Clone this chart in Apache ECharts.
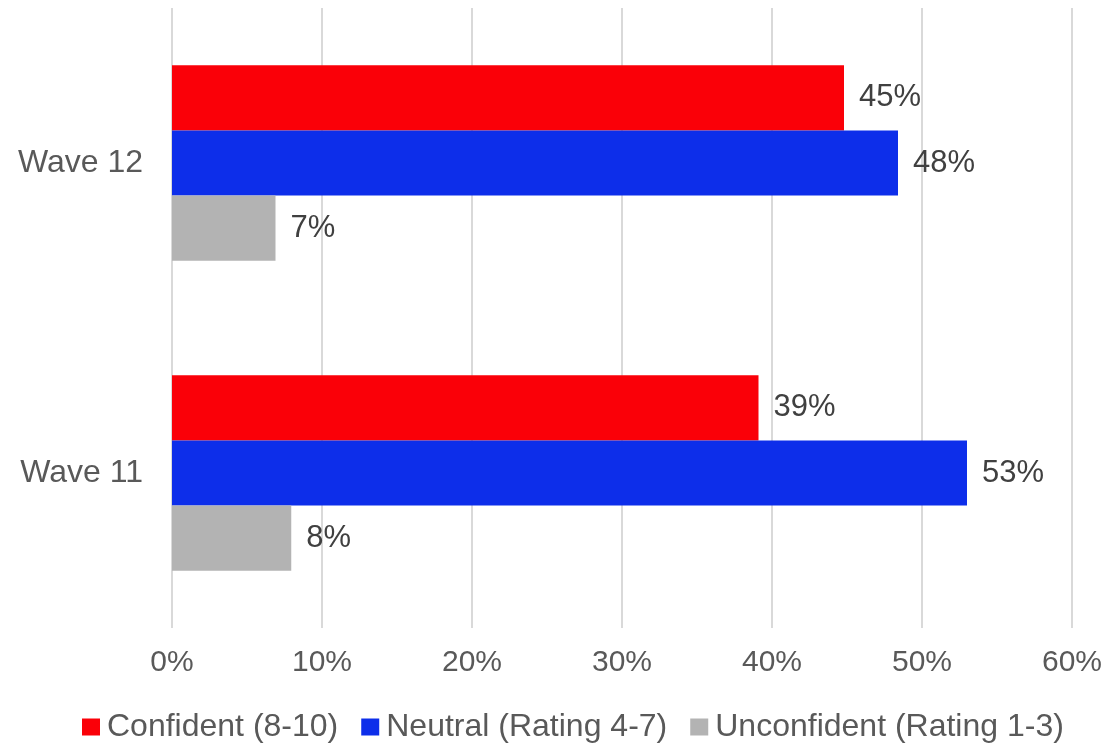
<!DOCTYPE html>
<html>
<head>
<meta charset="utf-8">
<script src="https://cdn.jsdelivr.net/npm/echarts@6/dist/echarts.min.js"></script>
<style>
  html, body { margin: 0; padding: 0; background: #fff; }
  #chart { width: 1109px; height: 744px; }
</style>
</head>
<body>
<div id="chart"></div>
<script>
const categories = ['Wave 12', 'Wave 11']
const confident = [44.8, 39.1]
const neutral = [48.4, 53.0]
const unconfident = [6.9, 7.95]
const xTicks = [0, 10, 20, 30, 40, 50, 60]

const font = '"Liberation Sans", Arial, sans-serif'

const chart = echarts.init(document.getElementById('chart'), null, { renderer: 'canvas' })

const barLabel = {
  show: true,
  position: 'right',
  distance: 15,
  fontSize: 31,
  fontFamily: font,
  color: '#404040',
  formatter: p => Math.round(p.value) + '%'
}

chart.setOption({
  animation: false,
  grid: { left: 172, right: 37, top: 8, bottom: 116 },
  legend: {
    top: 711,
    left: 82,
    padding: 0,
    itemWidth: 18,
    itemHeight: 17,
    itemGap: 23,
    icon: 'rect',
    textStyle: { fontSize: 32, fontFamily: font, color: '#595959', padding: [0, 0, 0, 2] },
    data: ['Confident (8-10)', 'Neutral (Rating 4-7)', 'Unconfident (Rating 1-3)']
  },
  xAxis: {
    type: 'value',
    min: xTicks[0],
    max: xTicks[xTicks.length - 1],
    interval: 10,
    axisLine: { show: false },
    axisTick: { show: false },
    splitLine: { lineStyle: { color: '#d9d9d9', width: 2 } },
    axisLabel: {
      margin: 20,
      fontSize: 30,
      fontFamily: font,
      color: '#595959',
      formatter: v => v + '%'
    }
  },
  yAxis: {
    type: 'category',
    inverse: true,
    data: categories,
    axisLine: { show: false },
    axisTick: { show: false },
    axisLabel: { margin: 29, fontSize: 32, fontFamily: font, color: '#595959' }
  },
  series: [
    {
      name: 'Confident (8-10)',
      type: 'bar',
      data: confident,
      barGap: '0%',
      barCategoryGap: '37%',
      itemStyle: { color: '#fa0008' },
      label: barLabel
    },
    {
      name: 'Neutral (Rating 4-7)',
      type: 'bar',
      data: neutral,
      itemStyle: { color: '#0d2eea' },
      label: barLabel
    },
    {
      name: 'Unconfident (Rating 1-3)',
      type: 'bar',
      data: unconfident,
      itemStyle: { color: '#b3b3b3' },
      label: barLabel
    }
  ]
})
</script>
</body>
</html>
